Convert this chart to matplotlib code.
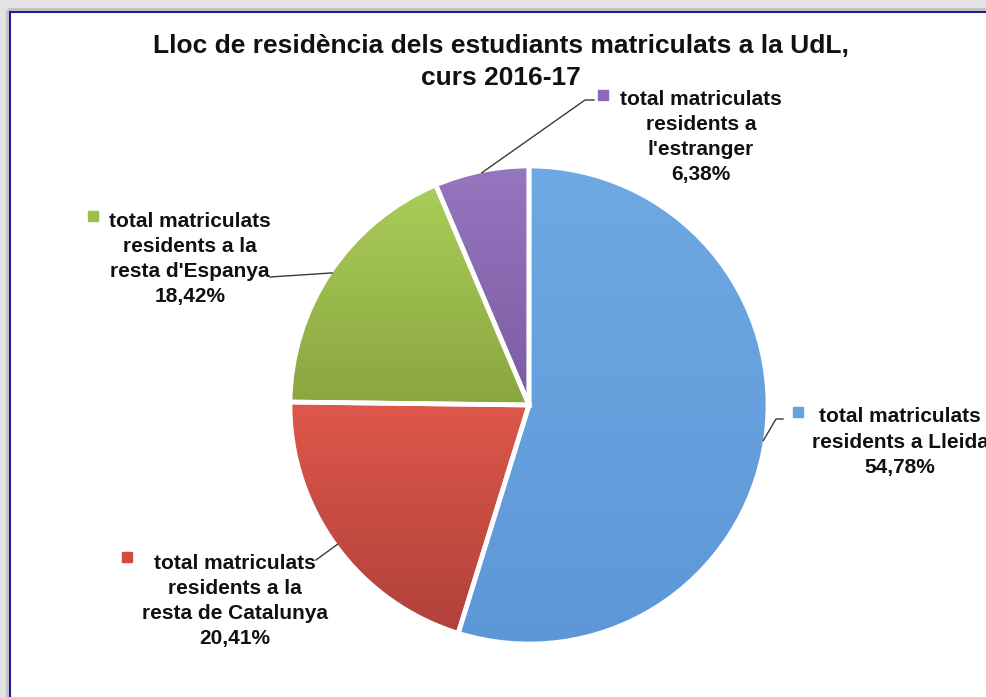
import numpy as np
import matplotlib.pyplot as plt
from matplotlib.patches import Rectangle
from matplotlib.colors import to_rgb

plt.rcParams['font.family'] = ['Liberation Sans', 'DejaVu Sans']

# Lloc de residència dels estudiants matriculats a la UdL, curs 2016-17 (%)
categories = [
    "total matriculats\nresidents a Lleida",
    "total matriculats\nresidents a la\nresta de Catalunya",
    "total matriculats\nresidents a la\nresta d'Espanya",
    "total matriculats\nresidents a\nl'estranger",
]
percentages = [54.78, 20.41, 18.42, 6.38]

# slice colours: top and bottom of the vertical gradient, plus legend square
top_colors = ['#6EA9E3', '#DF574B', '#AACD58', '#9677BF']
bottom_colors = ['#5E97D8', '#B0413A', '#8AA640', '#7B5BA1']
square_colors = ['#67A2DE', '#D24A42', '#9DC04D', '#8A6BB3']

# layout, in image pixels (y axis points down)
W, H = 987, 697
center = (529, 405)
radius = 239
label_xy = [(900, 442), (235, 601), (190, 259), (701, 137)]
square_xy = [(798, 412), (127, 557), (93, 216), (603, 95)]
leader_pts = [[(776, 419), (783, 419)], [(316, 560)], [(270, 277)], [(585, 100), (594, 100)]]

fig = plt.figure(figsize=(9.87, 6.97), dpi=100, facecolor='#E3E3E3')
ax = fig.add_axes([0, 0, 1, 1])

# white chart area with the blue frame (runs off the right and bottom edges)
ax.add_patch(Rectangle((8, 10), 1100, 800, facecolor='none', edgecolor='#C4C4C4', lw=3, zorder=-11))
ax.add_patch(Rectangle((10, 12), 1100, 800, facecolor='white', edgecolor='#1E1E9C', lw=1.5, zorder=-10))

# y is down, so counterclock in data coords = clockwise on screen, starting at 12 o'clock
wedges, _ = ax.pie(percentages, colors=top_colors, startangle=-90, counterclock=True,
                   center=center, radius=radius,
                   wedgeprops=dict(edgecolor='white', linewidth=3.4))

for w, c0, c1 in zip(wedges, top_colors, bottom_colors):
    v = w.get_path().vertices
    grad = np.linspace(to_rgb(c0), to_rgb(c1), 256)[:, None, :]
    im = ax.imshow(grad, extent=(v[:, 0].min(), v[:, 0].max(), v[:, 1].max(), v[:, 1].min()),
                   origin='upper', aspect='auto', interpolation='bilinear', zorder=0.5)
    im.set_clip_path(w)
    w.set_facecolor('none')

for w, cat, pct, (tx, ty), (sx, sy), pts, sc in zip(wedges, categories, percentages, label_xy,
                                                   square_xy, leader_pts, square_colors):
    mid = np.deg2rad((w.theta1 + w.theta2) / 2)
    r = radius - 2
    xs = [center[0] + r * np.cos(mid)] + [p[0] for p in pts]
    ys = [center[1] + r * np.sin(mid)] + [p[1] for p in pts]
    ax.plot(xs, ys, color='#3A3A3A', lw=1, zorder=2)
    ax.plot(sx, sy, marker='s', ms=6.5, color=sc, zorder=3)
    txt = cat + "\n" + f"{pct:.2f}".replace('.', ',') + "%"
    ax.text(tx, ty, txt, ha='center', va='center', fontsize=15, fontweight='bold',
            color='#111111', linespacing=1.4, zorder=3)

ax.text(501, 62, "Lloc de residència dels estudiants matriculats a la UdL,\ncurs 2016-17",
        ha='center', va='center', fontsize=19, fontweight='bold', color='#111111', linespacing=1.38)

ax.set_xlim(0, W)
ax.set_ylim(H, 0)
ax.set_aspect('equal')
ax.axis('off')

fig.savefig('out.png', dpi=100, facecolor=fig.get_facecolor())
